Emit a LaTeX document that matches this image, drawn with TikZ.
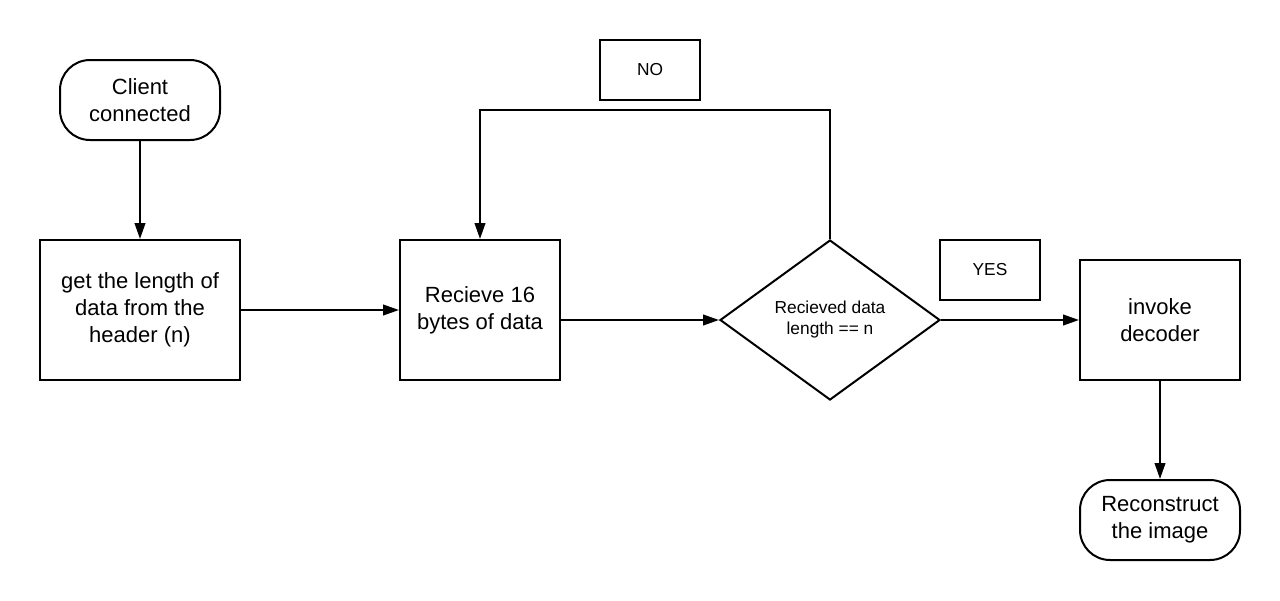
\documentclass[tikz,border=0pt]{standalone}
\usepackage{fontspec}
\setmainfont{Liberation Sans}
\usetikzlibrary{shapes.geometric,arrows.meta}
\begin{document}
\begin{tikzpicture}[x=0.75pt,y=-0.75pt,
  every node/.style={line width=1.5pt,draw,inner sep=0pt,align=center},
  mainfont/.style={font=\fontsize{16.5}{20.25}\selectfont},
  smallfont/.style={font=\fontsize{13}{15.75}\selectfont},
  proc/.style={rectangle,mainfont},
  term/.style={rectangle,rounded corners=22.5pt,mainfont},
  lbl/.style={rectangle,smallfont,minimum width=75pt,minimum height=45pt},
  dec/.style={diamond,aspect=1.375,minimum width=165pt,minimum height=120pt,smallfont},
  conn/.style={line width=1.5pt,-{Triangle[length=12pt,width=8pt]}}]
\useasboundingbox (0,0) rectangle (1280,600);
\node[term,minimum width=120pt,minimum height=60pt] (start) at (140,100) {Client\\connected};
\node[proc,minimum width=150pt,minimum height=105pt] (hdr) at (140,310) {get the length of\\data from the\\header (n)};
\node[proc,minimum width=120pt,minimum height=105pt] (recv) at (480,310) {Recieve 16\\bytes of data};
\node[dec] (chk) at (830,320) {Recieved data\\length == n};
\node[proc,minimum width=120pt,minimum height=90pt] (dec) at (1160,320) {invoke\\decoder};
\node[term,minimum width=120pt,minimum height=60pt] (end) at (1160,520) {Reconstruct\\the image};
\node[lbl] (no) at (650,70) {NO};
\node[lbl] (yes) at (990,270) {YES};
\coordinate (tr) at (830,110);
\coordinate (tl) at (480,110);
\draw[conn] (start.south) -- (hdr.north);
\draw[conn] (hdr.east) -- (recv.west);
\draw[conn] (recv.east |- chk.west) -- (chk.west);
\draw[conn] (chk.north) -- (tr) -- (tl) -- (recv.north);
\draw[conn] (chk.east) -- (dec.west);
\draw[conn] (dec.south) -- (end.north);
\end{tikzpicture}
\end{document}
